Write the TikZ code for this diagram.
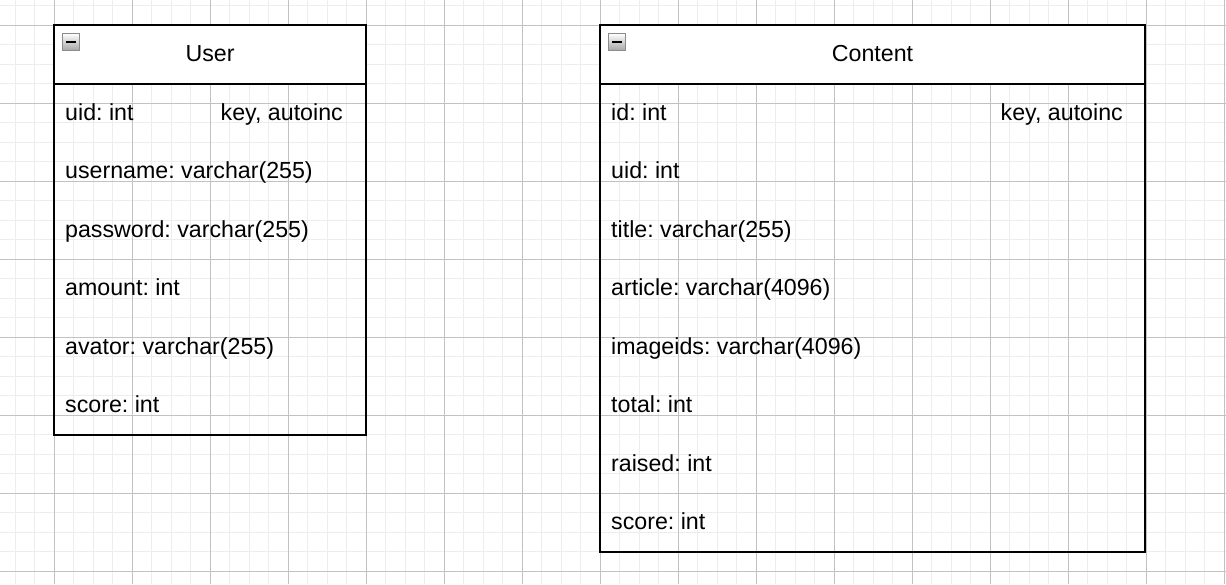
\documentclass[tikz,border=0pt]{standalone}
\usepackage{fontspec}
\setmainfont{Liberation Sans}
\newcommand{\erfont}{\fontsize{23.2}{28}\selectfont\frenchspacing}
\begin{document}
\begin{tikzpicture}[x=1pt,y=-1pt,
  minorgrid/.style={draw=black!7, line width=1pt},
  majorgrid/.style={draw=black!24, line width=1pt},
  tablebox/.style={draw=black, line width=2pt, inner sep=0pt, outer sep=0pt, anchor=north west},
  headbox/.style={draw=black, line width=2pt, fill=white, inner sep=0pt, outer sep=0pt, anchor=north west, minimum height=58.5pt},
  field/.style={anchor=base west, inner sep=0pt, font=\erfont},
  keytext/.style={anchor=base east, inner sep=0pt, font=\erfont},
  titletext/.style={anchor=base, inner sep=0pt, font=\erfont},
  collapseicon/.style={draw=black!45, line width=1.4pt, top color=white, bottom color=black!35, minimum width=17pt, minimum height=17pt, inner sep=0pt, outer sep=0pt, anchor=north west},
  minusbar/.style={line width=2.4pt, draw=black}
]
\useasboundingbox (0,0) rectangle (1226,584);
% grid
\foreach \i in {-3,...,62} \draw[minorgrid] ({54+19.5*\i},0) -- ({54+19.5*\i},584);
\foreach \j in {-2,...,29} \draw[minorgrid] (0,{25+19.5*\j}) -- (1226,{25+19.5*\j});
\foreach \i in {-1,...,15} \draw[majorgrid] ({54+78*\i},0) -- ({54+78*\i},584);
\foreach \j in {-1,...,7} \draw[majorgrid] (0,{25+78*\j}) -- (1226,{25+78*\j});

% User table
\node[tablebox, minimum width=312pt, minimum height=409.5pt] (user) at (54,25) {};
\node[headbox, minimum width=312pt] (userhead) at (54,25) {};
\node[collapseicon] (usericon) at (62.5,33.5) {};
\draw[minusbar] ([xshift=-5pt]usericon.center) -- ([xshift=5pt]usericon.center);
\node[titletext] (usertitle) at (210,61) {User};
\node[field] (u1) at (65,120) {uid: int};
\node[keytext] (u1k) at (343,120) {key, autoinc};
\node[field] (u2) at (65,178.5) {username: varchar(255)};
\node[field] (u3) at (65,237) {password: varchar(255)};
\node[field] (u4) at (65,295.5) {amount: int};
\node[field] (u5) at (65,354) {avator: varchar(255)};
\node[field] (u6) at (65,412.5) {score: int};

% Content table
\node[tablebox, minimum width=545pt, minimum height=526.5pt] (content) at (600,25) {};
\node[headbox, minimum width=545pt] (contenthead) at (600,25) {};
\node[collapseicon] (contenticon) at (608.5,33.5) {};
\draw[minusbar] ([xshift=-5pt]contenticon.center) -- ([xshift=5pt]contenticon.center);
\node[titletext] (contenttitle) at (872.5,61) {Content};
\node[field] (c1) at (611,120) {id: int};
\node[keytext] (c1k) at (1123,120) {key, autoinc};
\node[field] (c2) at (611,178.5) {uid: int};
\node[field] (c3) at (611,237) {title: varchar(255)};
\node[field] (c4) at (611,295.5) {article: varchar(4096)};
\node[field] (c5) at (611,354) {imageids: varchar(4096)};
\node[field] (c6) at (611,412.5) {total: int};
\node[field] (c7) at (611,471) {raised: int};
\node[field] (c8) at (611,529.5) {score: int};
\end{tikzpicture}
\end{document}
